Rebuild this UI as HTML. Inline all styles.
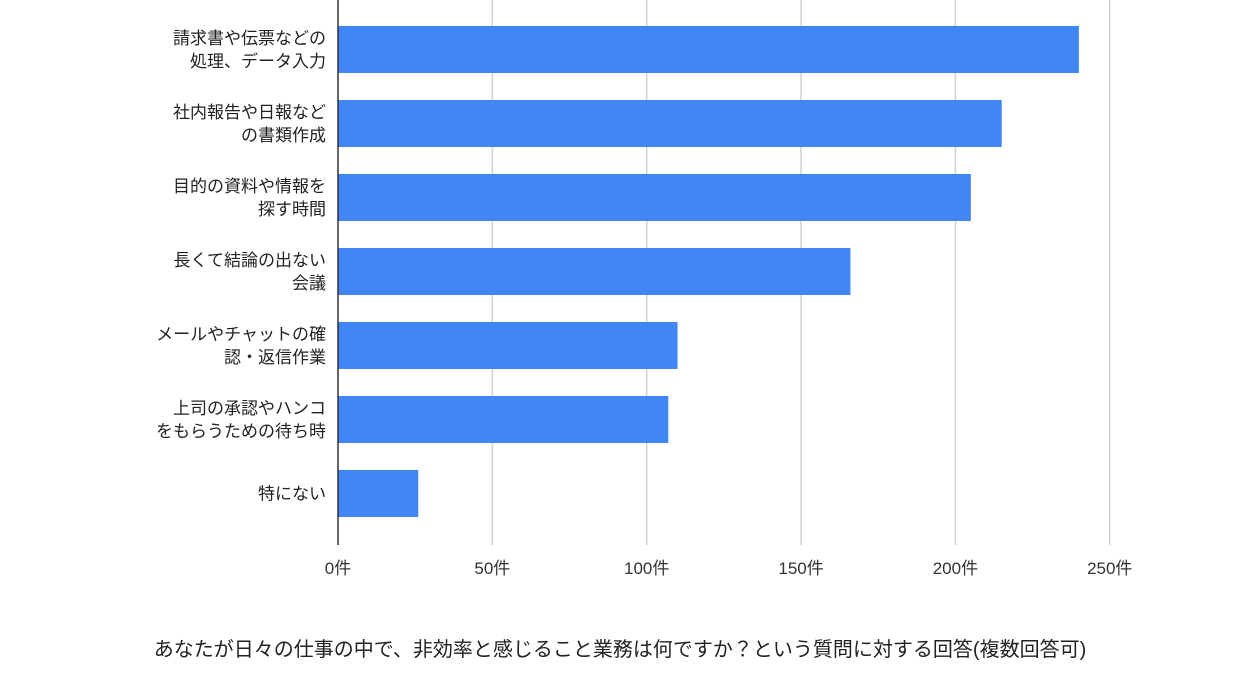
<!DOCTYPE html>
<html><head><meta charset="utf-8"><style>
body{margin:0;width:1240px;height:680px;background:#fff;overflow:hidden;font-family:"Liberation Sans","Noto Sans CJK JP",sans-serif}
svg text{font-family:"Liberation Sans","Noto Sans CJK JP",sans-serif}
</style></head><body>
<svg id="chart" width="1240" height="680" xmlns="http://www.w3.org/2000/svg"></svg>
<script>
const categories=[["請求書や伝票などの","処理、データ入力"],["社内報告や日報など","の書類作成"],["目的の資料や情報を","探す時間"],["長くて結論の出ない","会議"],["メールやチャットの確","認・返信作業"],["上司の承認やハンコ","をもらうための待ち時"],["特にない"]];
const values=[240,215,205,166,110,107,26];
const ticks=[0,50,100,150,200,250];
const tickLabels=["0件","50件","100件","150件","200件","250件"];
const NS="http://www.w3.org/2000/svg";
const svg=document.getElementById('chart');
const x0=338,pxPer=3.087,plotTop=24,step=74,barH=47;
const xs=v=>x0+v*pxPer;
function mk(t,a){const e=document.createElementNS(NS,t);for(const k in a)e.setAttribute(k,a[k]);svg.appendChild(e);return e;}
ticks.forEach((t,i)=>{
  if(t>0){const g=mk('line',{x1:xs(t),x2:xs(t),y1:0,y2:545,stroke:'#d0d0d0','stroke-width':1.5});
  
  }
  const l=mk('text',{x:xs(t),y:574,'text-anchor':'middle','font-size':17,fill:'#333'});
  l.textContent=tickLabels[i];
  
  
});
values.forEach((v,i)=>{
  const y=plotTop+i*step+2;
  const b=mk('rect',{x:x0,y:y,width:xs(v)-x0,height:barH,fill:'#4285f4'});
  
  
  const lines=categories[i];
  const cy=y+barH/2;
  lines.forEach((s,j)=>{
    const ty=cy+(j-(lines.length-1)/2)*23+6;
    const t=mk('text',{x:326,y:ty,'text-anchor':'end','font-size':17,fill:'#222'});
    t.textContent=s;
    
    
  });
});
const ax=mk('line',{x1:x0,x2:x0,y1:0,y2:545,stroke:'#333','stroke-width':1.5});


const cap=mk('text',{x:620,y:656,'text-anchor':'middle','font-size':20,fill:'#222'});
cap.textContent="あなたが日々の仕事の中で、非効率と感じること業務は何ですか？という質問に対する回答(複数回答可)";


</script>
</body></html>
